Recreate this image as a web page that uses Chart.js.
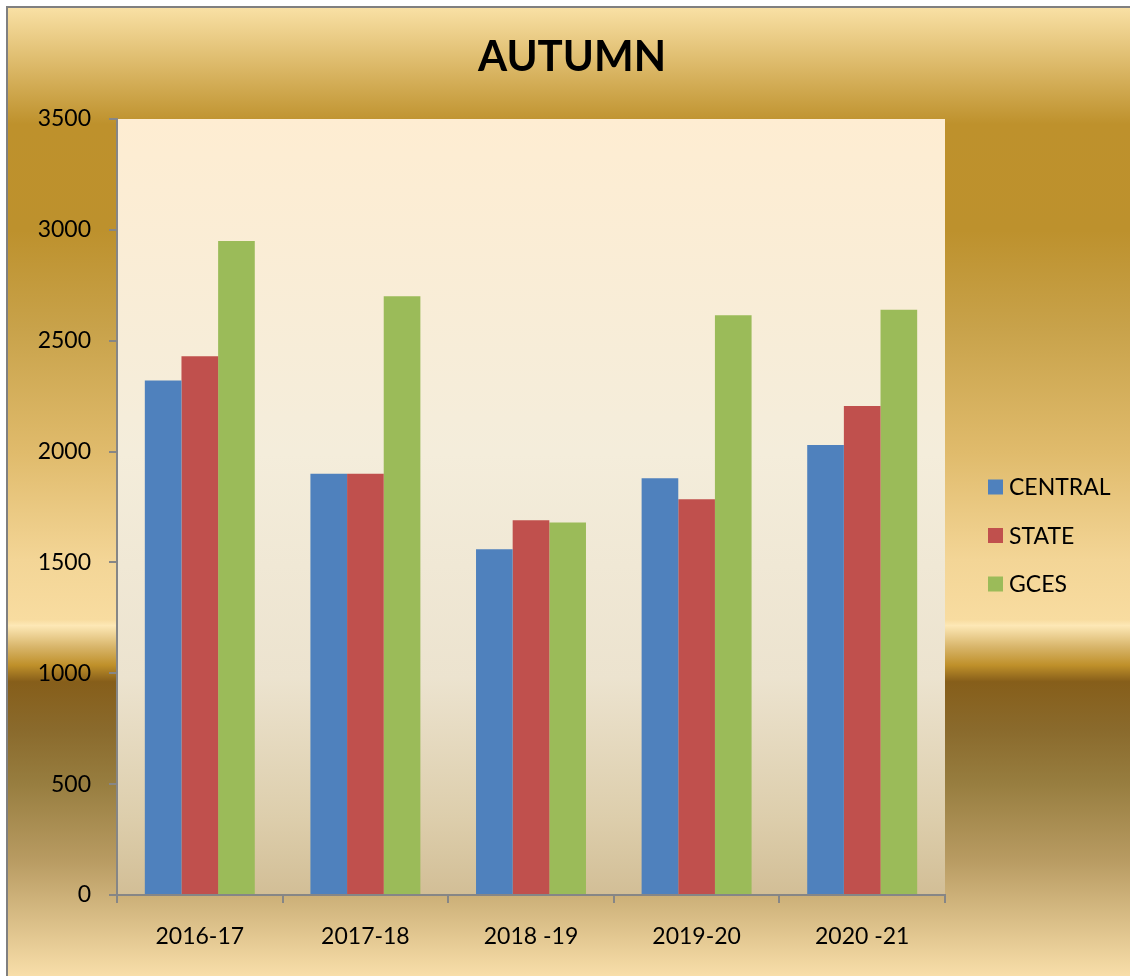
<!DOCTYPE html>
<html>
<head>
<meta charset="utf-8">
<script src="https://cdn.jsdelivr.net/npm/chart.js@4/dist/chart.umd.min.js"></script>
<style>
  html, body { margin: 0; padding: 0; background: #fff; }
  #wrap { width: 1130px; height: 976px; position: relative; }
</style>
</head>
<body>
<div id="wrap"><canvas id="chart"></canvas></div>
<script>
// Chart data
const categories = ['2016-17', '2017-18', '2018 -19', '2019-20', '2020 -21'];
const central = [2320, 1900, 1560, 1880, 2030];
const state = [2430, 1900, 1690, 1785, 2205];
const gces = [2950, 2700, 1680, 2615, 2640];
const seriesNames = ['CENTRAL', 'STATE', 'GCES'];
const seriesColors = ['#4F81BD', '#C0504D', '#9BBB59'];

const FONT = 'Lato, "Open Sans", sans-serif';

// Gold frame, cream plot area, title and legend
const decor = {
  id: 'decor',
  beforeDraw(chart) {
    const { ctx, width, height, chartArea: a } = chart;
    ctx.save();
    ctx.fillStyle = '#fff';
    ctx.fillRect(0, 0, width, height);

    const g = ctx.createLinearGradient(0, 8, 0, height);
    g.addColorStop(0, '#F9E0A4');
    g.addColorStop(0.12, '#BE912C');
    g.addColorStop(0.23, '#BD912D');
    g.addColorStop(0.33, '#C8A24A');
    g.addColorStop(0.46, '#E0BB6C');
    g.addColorStop(0.57, '#F3D596');
    g.addColorStop(0.632, '#F8DCA0');
    g.addColorStop(0.638, '#FDE8B6');
    g.addColorStop(0.66, '#D8B56A');
    g.addColorStop(0.679, '#BF902A');
    g.addColorStop(0.696, '#865E1A');
    g.addColorStop(0.745, '#8A6A2C');
    g.addColorStop(0.8, '#977D3F');
    g.addColorStop(0.88, '#B89B62');
    g.addColorStop(1, '#F8DEA9');
    ctx.fillStyle = g;
    ctx.fillRect(8, 8, width - 8, height - 8);

    ctx.fillStyle = '#808080';
    ctx.fillRect(6, 6, width - 6, 2);
    ctx.fillRect(6, 6, 2, height - 6);

    const p = ctx.createLinearGradient(0, a.top, 0, a.bottom);
    p.addColorStop(0, '#FEEDD2');
    p.addColorStop(0.43, '#F4EDDB');
    p.addColorStop(0.72, '#ECE3CF');
    p.addColorStop(0.9, '#DDCEAC');
    p.addColorStop(1, '#D2BE96');
    ctx.fillStyle = p;
    ctx.fillRect(a.left, a.top, a.right - a.left, a.bottom - a.top);
    ctx.restore();
  },
  afterDraw(chart) {
    const { ctx } = chart;
    ctx.save();
    ctx.fillStyle = '#000';
    ctx.textAlign = 'center';
    ctx.textBaseline = 'middle';
    ctx.font = 'bold 42px ' + FONT;
    ctx.fillText('AUTUMN', 572, 57);

    ctx.textAlign = 'left';
    ctx.font = '23px ' + FONT;
    chart.data.datasets.forEach((ds, i) => {
      const y = 487 + i * 48.5;
      ctx.fillStyle = ds.backgroundColor;
      ctx.fillRect(988, y - 7.5, 15, 15);
      ctx.fillStyle = '#000';
      ctx.fillText(ds.label, 1009, y + 1);
    });
    ctx.restore();
  }
};

const seriesValues = [central, state, gces];

new Chart(document.getElementById('chart'), {
  type: 'bar',
  data: {
    labels: categories,
    datasets: seriesNames.map((name, i) => ({
      label: name,
      data: seriesValues[i],
      backgroundColor: seriesColors[i],
      borderWidth: 0,
      barPercentage: 1,
      categoryPercentage: 0.664
    }))
  },
  options: {
    responsive: true,
    maintainAspectRatio: false,
    animation: false,
    layout: { padding: { top: 119, right: 185, bottom: 0, left: 0 } },
    plugins: {
      legend: { display: false },
      title: { display: false },
      tooltip: { enabled: false }
    },
    scales: {
      x: {
        afterFit: s => { s.height = 81; },
        grid: {
          offset: true,
          drawOnChartArea: false,
          drawTicks: true,
          tickLength: 8,
          color: '#868686',
          lineWidth: 2
        },
        border: { color: '#868686', width: 2 },
        ticks: { color: '#000', font: { family: FONT, size: 23 }, padding: 20 }
      },
      y: {
        min: 0,
        max: 3500,
        afterFit: s => { s.width = 117; },
        grid: {
          drawOnChartArea: false,
          drawTicks: true,
          tickLength: 8,
          color: '#868686',
          lineWidth: 2
        },
        border: { color: '#868686', width: 2 },
        ticks: {
          stepSize: 500,
          color: '#000',
          font: { family: FONT, size: 23 },
          padding: 18,
          callback: v => String(v)
        }
      }
    }
  },
  plugins: [decor]
});
</script>
</body>
</html>
